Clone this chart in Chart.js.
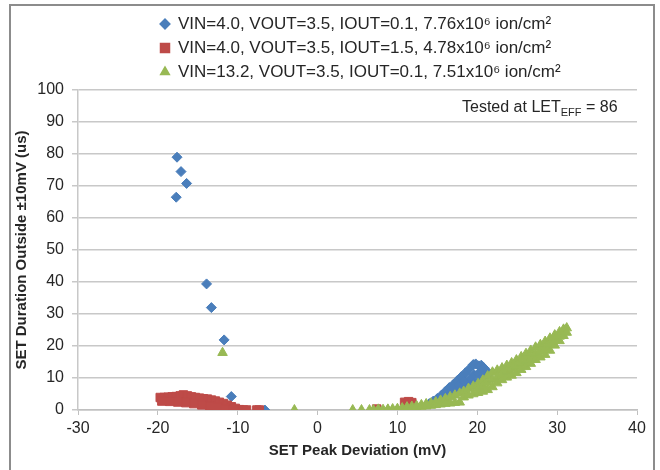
<!DOCTYPE html>
<html><head><meta charset="utf-8">
<script src="https://cdn.jsdelivr.net/npm/chart.js@4.4.0/dist/chart.umd.min.js"></script>
<style>html,body{margin:0;padding:0;background:#fff;}#wrap{width:660px;height:470px;position:relative;}</style>
</head><body><div id="wrap"><canvas id="c" width="660" height="470"></canvas></div>
<script>
// ---------- DATA ----------
const seriesLabels = [
  'VIN=4.0, VOUT=3.5, IOUT=0.1, 7.76x10\u2076 ion/cm\u00B2',
  'VIN=4.0, VOUT=3.5, IOUT=1.5, 4.78x10\u2076 ion/cm\u00B2',
  'VIN=13.2, VOUT=3.5, IOUT=0.1, 7.51x10\u2076 ion/cm\u00B2'
];
const xTicks = [-30, -20, -10, 0, 10, 20, 30, 40];
const yTicks = [0, 10, 20, 30, 40, 50, 60, 70, 80, 90, 100];
const xTitle = 'SET Peak Deviation (mV)';
const yTitle = 'SET Duration Outside \u00B110mV (us)';
const noteMain = 'Tested at LET';
const noteSub = 'EFF';
const noteTail = ' = 86';

// Series 1 (blue)
const blueX = [-17.6,-17.1,-16.4,-17.7,-13.9,-13.3,-11.7,-10.8,-6.6,
  14.0,14.5,15.0,15.5,16.0,16.5,17.0,17.5,18.0,18.5,19.0,19.5,19.8,20.2,20.5,20.8,21.1,21.3,
  15.0,15.8,16.5,17.2,17.8,18.4,19.0,19.6,20.2,20.8,
  18.8,19.6,20.2,16.9,17.7,18.3];
const blueY = [79.0,74.5,70.8,66.5,39.4,32.0,21.9,4.2,0,
  2.0,2.8,3.6,4.6,5.8,7.0,8.0,9.2,10.4,11.6,12.8,14.2,14.4,13.8,14.0,13.2,12.4,11.0,
  2.4,3.4,4.6,5.8,7.2,8.4,9.6,11.0,11.6,10.6,
  7.0,8.4,9.2,6.4,7.8,9.0];

// Series 2 (red)
const redX = [-19.7,-19.2,-18.7,-18.2,-17.7,-17.2,-16.8,-16.3,-15.8,-15.3,-14.8,-14.3,-13.8,-13.3,-12.8,-12.3,-11.8,-11.3,-10.8,-10.3,-9.8,-9.3,-8.9,
  -19.5,-18.5,-17.5,-16.5,-15.5,-14.5,-13.5,-12.5,-11.5,-10.5,
  -7.6,-7.3,
  7.4,10.9,11.4,11.8];
const redY = [3.9,3.9,4.0,4.1,4.2,4.4,4.7,4.4,4.1,3.9,3.7,3.5,3.4,3.1,2.8,2.4,2.0,1.5,1.0,0.5,0.1,0,0,
  2.8,2.7,2.5,2.3,2.0,1.6,1.2,0.8,0.3,0,
  0,0,
  0.3,2.4,2.6,2.3];

// Series 3 (green)
const greenX = [-11.9,-2.9,4.4,5.5,
  6.5,7.0,7.6,7.6,8.2,8.8,8.8,9.4,10.0,10.0,10.6,10.6,11.2,11.2,11.8,11.8,12.4,12.4,
  13.0,13.0,13.6,13.6,14.2,14.2,14.8,14.8,15.4,15.4,16.0,16.0,16.6,16.6,17.2,17.2,17.8,17.8,
  18.3,18.3,18.9,18.9,19.5,19.5,20.1,20.1,20.1,20.7,20.7,20.7,21.3,21.3,21.3,21.9,21.9,21.9,
  22.5,22.5,22.5,23.1,23.1,23.1,23.7,23.7,23.7,24.3,24.3,24.3,24.9,24.9,24.9,25.5,25.5,25.5,
  26.1,26.1,26.1,26.7,26.7,26.7,27.3,27.3,27.3,27.9,27.9,27.9,28.5,28.5,28.5,29.1,29.1,29.1,
  29.7,29.7,29.7,30.3,30.3,30.3,30.8,30.8,31.2,31.2];
const greenY = [17.9,0,0,0,
  0,0,0,0.2,0.1,0.2,0,0.3,0.4,0,0.6,0.1,0.9,0.4,1.1,0.5,1.3,0.7,
  1.6,1.1,1.9,1.2,2.1,1.4,2.5,1.6,3.0,1.8,3.5,2.0,4.1,2.1,4.6,2.3,5.2,2.4,
  5.8,4.0,6.7,4.6,7.4,5.0,8.2,5.4,6.8,9.3,5.8,7.5,10.6,6.3,8.4,11.8,7.2,9.5,
  12.4,8.4,10.4,13.1,9.4,11.3,13.9,10.2,12.0,14.7,10.8,12.8,15.6,11.6,13.6,16.6,12.6,14.6,
  17.6,13.5,15.5,18.6,14.5,16.5,19.6,15.7,17.6,20.4,16.5,18.5,21.4,17.3,19.3,22.4,18.6,20.5,
  23.4,20.2,21.8,24.4,21.6,23.0,25.2,23.2,25.6,24.2];

// ---------- BUILD ----------
const pts = (xs, ys) => xs.map((x, i) => ({x: x, y: ys[i]}));
const FONT = "'Liberation Sans', Arial, sans-serif";

const datasets = [
  {label: seriesLabels[0], data: pts(blueX, blueY), pointStyle: 'rectRot', pointRadius: 5,
   backgroundColor: '#4a7ebb', borderColor: '#4a7ebb', borderWidth: 1, order: 3, showLine: false},
  {label: seriesLabels[1], data: pts(redX, redY), pointStyle: 'rect', pointRadius: 6,
   backgroundColor: '#be4b48', borderColor: '#be4b48', borderWidth: 1, order: 2, showLine: false},
  {label: seriesLabels[2], data: pts(greenX, greenY), pointStyle: 'triangle', pointRadius: 5.5,
   backgroundColor: '#98b954', borderColor: '#98b954', borderWidth: 1, order: 1, showLine: false}
];

const decor = {
  id: 'decor',
  beforeDraw(chart) {
    const ctx = chart.ctx;
    ctx.save();
    ctx.fillStyle = '#fff';
    ctx.fillRect(0, 0, chart.width, chart.height);
    ctx.restore();
  },
  afterDraw(chart) {
    const ctx = chart.ctx;
    ctx.save();
    // frame
    ctx.strokeStyle = '#8c8c8c';
    ctx.lineWidth = 2;
    ctx.strokeRect(10, 5, 644, 480);
    // legend
    const rows = [24, 48, 72];
    chart.data.datasets.forEach((ds, i) => {
      ctx.fillStyle = ds.backgroundColor;
      ctx.strokeStyle = ds.borderColor;
      Chart.helpers.drawPoint(ctx, {pointStyle: ds.pointStyle,
        radius: ds.pointStyle === 'rect' ? 6 : 4.5, borderWidth: 1, rotation: 0}, 165, rows[i]);
      ctx.fillStyle = '#262626';
      ctx.font = '17px ' + FONT;
      ctx.textBaseline = 'middle';
      ctx.textAlign = 'left';
      ctx.fillText(ds.label, 178, rows[i]);
    });
    // note
    ctx.fillStyle = '#262626';
    ctx.textBaseline = 'alphabetic';
    ctx.font = '16px ' + FONT;
    let x = 462, y = 112;
    ctx.fillText(noteMain, x, y);
    x += ctx.measureText(noteMain).width;
    ctx.font = '11px ' + FONT;
    ctx.fillText(noteSub, x, y + 4);
    x += ctx.measureText(noteSub).width;
    ctx.font = '16px ' + FONT;
    ctx.fillText(noteTail, x, y);
    ctx.restore();
  }
};

new Chart(document.getElementById('c'), {
  type: 'scatter',
  data: {datasets: datasets},
  plugins: [decor],
  options: {
    responsive: false,
    animation: false,
    devicePixelRatio: 1,
    layout: {padding: {left: 12, right: 23, top: 90, bottom: 0}},
    plugins: {legend: {display: false}, tooltip: {enabled: false}},
    scales: {
      x: {
        type: 'linear', min: xTicks[0], max: xTicks[xTicks.length - 1],
        afterBuildTicks: (s) => { s.ticks = xTicks.map(v => ({value: v})); },
        afterFit: (s) => { s.height = 60; },
        ticks: {font: {family: FONT, size: 16}, color: '#262626', padding: 4},
        grid: {drawOnChartArea: false, drawTicks: true, tickLength: 5, color: '#c0c0c0', lineWidth: 1},
        border: {display: true, color: '#c0c0c0', width: 1.5},
        title: {display: true, text: xTitle, font: {family: FONT, size: 15, weight: 'bold'}, color: '#262626', padding: {top: 0, bottom: 10}}
      },
      y: {
        type: 'linear', min: yTicks[0], max: yTicks[yTicks.length - 1],
        afterBuildTicks: (s) => { s.ticks = yTicks.map(v => ({value: v})); },
        afterFit: (s) => { s.width = 66; },
        ticks: {font: {family: FONT, size: 16}, color: '#262626', padding: 8},
        grid: {color: '#c8c8c8', lineWidth: 1.5, tickLength: 6},
        border: {display: true, color: '#c8c8c8', width: 1.5},
        title: {display: true, text: yTitle, font: {family: FONT, size: 15, weight: 'bold'}, color: '#262626', padding: {top: 1, bottom: 0}}
      }
    }
  }
});
</script></body></html>
